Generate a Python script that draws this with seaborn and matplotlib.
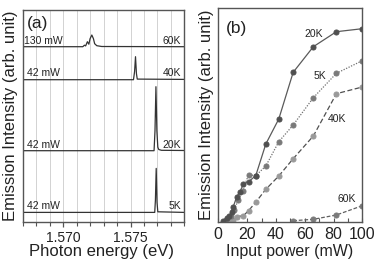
import numpy as np
import pandas as pd
import matplotlib
matplotlib.use("Agg")
import matplotlib.pyplot as plt
from matplotlib.ticker import MultipleLocator, NullLocator, FormatStrFormatter
import seaborn as sns

# ---------------- data: panel (a) spectra ----------------
E_60K = [1.567, 1.57145, 1.57157, 1.57166, 1.57179, 1.5719, 1.57199, 1.57212, 1.57224, 1.57233, 1.57249, 1.57286, 1.579]
I_60K = [0.0, 0.0, 1.5, 0.8, 5.0, 2.5, 8.0, 11.7, 8.0, 3.0, 1.0, 0.2, 0.0]
E_40K = [1.567, 1.57522, 1.5753, 1.57537, 1.57544, 1.5755, 1.579]
I_40K = [0.0, 0.0, 8.0, 23.0, 6.0, 0.6, 0.3]
E_20K = [1.567, 1.57675, 1.57682, 1.57689, 1.57696, 1.57703, 1.5771, 1.5773, 1.579]
I_20K = [0.0, 0.0, 20.0, 64.0, 20.0, 3.5, 1.2, 0.4, 0.2]
E_5K = [1.567, 1.5768, 1.57685, 1.57691, 1.57697, 1.57703, 1.579]
I_5K = [0.0, 0.0, 12.0, 44.0, 10.0, 0.6, 0.0]
spec_offsets = {"60K": 175.0, "40K": 142.0, "20K": 71.0, "5K": 9.3}
spec_power = {"60K": "130 mW", "40K": "42 mW", "20K": "42 mW", "5K": "42 mW"}

# ---------------- data: panel (b) power dependence ----------------
P_20K = [3.5, 6, 7.6, 9.3, 10.4, 12.8, 15, 17.4, 21, 26, 33, 42, 52, 66, 82, 100]
Y_20K = [1.0, 3.4, 5.7, 10, 15, 25, 30, 37.4, 40, 46, 77.7, 102.7, 149.4, 175, 190, 193]
P_5K = [5, 8.5, 11, 14, 17, 21, 26, 33, 42, 52, 66, 82, 100]
Y_5K = [1.5, 6, 12, 22, 31, 47, 46, 55.7, 80, 96.7, 124, 148.4, 161]
P_40K = [8.5, 10, 12.8, 17.4, 21, 26, 33, 42, 52, 66, 82, 100]
Y_40K = [0.7, 1.7, 5, 6, 11, 19.5, 32.4, 45.7, 63, 85.7, 128, 134.7]
P_60K = [52, 66, 82, 100]
Y_60K = [1.0, 2.4, 6.7, 16]

sns.set_style("white")
plt.rcParams["font.family"] = ["Liberation Sans", "DejaVu Sans"]
TXT = "#222222"
SP = "#555555"

W, H = 374, 262
fig = plt.figure(figsize=(W / 100, H / 100), dpi=100)

# ---------------- panel (a) ----------------
axa = fig.add_axes([23 / W, 1 - 221.7 / H, 161.3 / W, 211.7 / H])
rows = []
for name, E, I in [("60K", E_60K, I_60K), ("40K", E_40K, I_40K), ("20K", E_20K, I_20K), ("5K", E_5K, I_5K)]:
    for e, v in zip(E, I):
        rows.append({"E": e, "I": v + spec_offsets[name], "T": name})
dfa = pd.DataFrame(rows)
sns.lineplot(data=dfa, x="E", y="I", units="T", estimator=None, sort=False,
             color="#333333", lw=0.9, ax=axa, legend=False)
axa.set_xlim(1.567, 1.579)
axa.set_ylim(0, 211.7)
axa.xaxis.set_major_locator(MultipleLocator(0.005))
axa.xaxis.set_minor_locator(MultipleLocator(0.001))
axa.xaxis.set_major_formatter(FormatStrFormatter("%.3f"))
axa.yaxis.set_major_locator(NullLocator())
axa.grid(True, which="both", axis="x", color="#d2d2d2", lw=0.7)
axa.set_axisbelow(True)
axa.tick_params(axis="x", which="major", direction="out", length=3.5, width=0.9, color=SP,
                labelsize=10, pad=3.0, labelcolor=TXT, bottom=True)
axa.tick_params(axis="x", which="minor", direction="out", length=3.0, width=0.8, color=SP, bottom=True)
for s in axa.spines.values():
    s.set_color(SP)
    s.set_linewidth(1.0)
axa.set_xlabel("Photon energy (eV)", fontsize=12, color=TXT)
axa.xaxis.set_label_coords(0.4876, -0.103)
axa.set_ylabel("Emission Intensity (arb. unit)", fontsize=12, color=TXT)
axa.yaxis.set_label_coords(-0.033, 0.5)
for name, off in spec_offsets.items():
    axa.text(1.56732 if name != "60K" else 1.56705, off + 1.2, spec_power[name],
             fontsize=7.5, color=TXT, ha="left", va="bottom")
    axa.text(1.57877, off + 1.2, name, fontsize=7.5, color=TXT, ha="right", va="bottom")
axa.text(1.56808, 198, "(a)", fontsize=12.5, color=TXT, ha="center", va="center")

# ---------------- panel (b) ----------------
axb = fig.add_axes([218.3 / W, 1 - 221.7 / H, 144 / W, 213.4 / H])
rows = []
for name, P, Y in [("20K", P_20K, Y_20K), ("5K", P_5K, Y_5K), ("40K", P_40K, Y_40K), ("60K", P_60K, Y_60K)]:
    for p, y in zip(P, Y):
        rows.append({"P": p, "Y": y, "T": name})
dfb = pd.DataFrame(rows)
styles = {"20K": ("#5a5a5a", "-", "#505050"),
          "5K": ("#707070", (0, (1, 1.2)), "#7a7a7a"),
          "40K": ("#505050", (0, (4, 2)), "#9a9a9a"),
          "60K": ("#606060", (0, (3, 1.5)), "#7a7a7a")}
for name in ["40K", "60K", "5K", "20K"]:
    lc, ls, mc = styles[name]
    sub = dfb[dfb["T"] == name]
    sns.lineplot(data=sub, x="P", y="Y", estimator=None, sort=False, ax=axb,
                 color=lc, lw=0.9, linestyle=ls, marker="o", markersize=3.6,
                 markerfacecolor=mc, markeredgecolor=mc, legend=False)
axb.set_xlim(0, 100)
axb.set_ylim(0, 213.4)
axb.xaxis.set_major_locator(MultipleLocator(20))
axb.xaxis.set_minor_locator(MultipleLocator(10))
axb.yaxis.set_major_locator(NullLocator())
axb.tick_params(axis="x", which="both", direction="in", length=3, width=0.8, color=SP,
                labelsize=11.5, pad=4.0, labelcolor=TXT, bottom=True)
for s in axb.spines.values():
    s.set_color(SP)
    s.set_linewidth(1.0)
axb.set_xlabel("Input power (mW)", fontsize=11.5, color=TXT)
axb.xaxis.set_label_coords(0.498, -0.103)
axb.set_ylabel("Emission Intensity (arb. unit)", fontsize=12, color=TXT)
axb.yaxis.set_label_coords(-0.03, 0.5)
for name, (x, y) in {"20K": (66.5, 187.7), "5K": (70.6, 145.7), "40K": (82.4, 102.7), "60K": (89.4, 22.7)}.items():
    axb.text(x, y, name, fontsize=7.5, color=TXT, ha="center", va="center")
axb.text(12.3, 193.7, "(b)", fontsize=12.5, color=TXT, ha="center", va="center")

fig.savefig("out.png", dpi=100)
